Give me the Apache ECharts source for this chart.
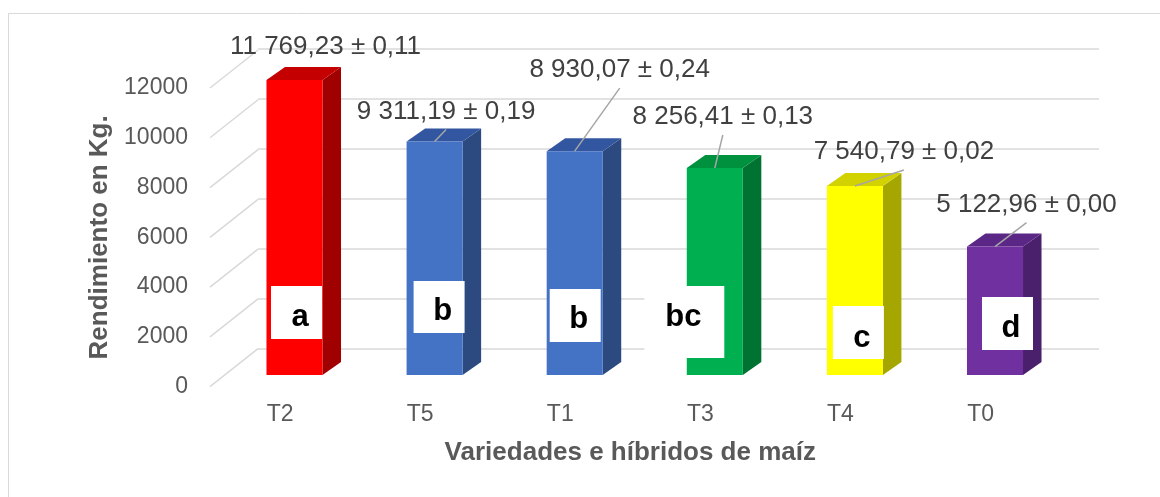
<!DOCTYPE html>
<html>
<head>
<meta charset="utf-8">
<title>Rendimiento en Kg.</title>
<script src="https://cdn.jsdelivr.net/npm/echarts@6/dist/echarts.min.js"></script>
<style>
  * { margin: 0; padding: 0; }
  html, body { background: #fff; }
  #main { width: 1160px; height: 497px; }
</style>
</head>
<body>
<div id="main"></div>
<script>
  // datos
  var categories = ['T2', 'T5', 'T1', 'T3', 'T4', 'T0'];
  var means = [11769.23, 9311.19, 8930.07, 8256.41, 7540.79, 5122.96];
  var errors = [0.11, 0.19, 0.24, 0.13, 0.02, 0.00];
  var groups = ['a', 'b', 'b', 'bc', 'c', 'd'];
  var yTicks = [0, 2000, 4000, 6000, 8000, 10000, 12000];

  // estilos: [frente, lado, tapa]
  var barColors = [
    ['#FF0000', '#A00000', '#C40000'],
    ['#4472C4', '#2D4A80', '#3356A0'],
    ['#4472C4', '#2D4A80', '#3356A0'],
    ['#00B050', '#007232', '#00913F'],
    ['#FFFF00', '#A6A600', '#D2D200'],
    ['#7030A0', '#4A1F6B', '#5B2786']
  ];
  // posicion de etiquetas movidas a mano: [dx, dy, linea guia]
  var labelShift = [[31, -33, 0], [11.5, -30, 1], [45, -81, 1], [8, -51, 1], [49, -34, 1], [31.5, -42, 1]];
  // cuadros de letras: [dx, dy desde base, ancho, alto, tx, ty]
  var letterBox = [
    [2, -62.5, 51, 53, 3.5, 4.5],
    [4.5, -68, 51, 52, 3.5, 4],
    [0.5, -59.5, 51, 53, 3.5, 3.5],
    [-30.5, -53, 80, 72, -1, -5],
    [3.5, -42.5, 51, 53, 3.5, 5.5],
    [12.5, -51.5, 51, 53, 3.5, 4.5]
  ];

  var FONT = "'Liberation Sans', Arial, sans-serif";
  var DX = 18.5, DY = -13;      // profundidad de la barra
  var WX = 48, WY = -38;        // profundidad de la pared

  function fmt(v) {
    var p = v.toFixed(2).split('.');
    return p[0].replace(/\B(?=(\d{3})+(?!\d))/g, ' ') + ',' + p[1];
  }

  var chart = echarts.init(document.getElementById('main'));

  function renderBar(params, api) {
    var i = params.dataIndex;
    var top = api.coord([api.value(0), api.value(1)]);
    var base = api.coord([api.value(0), 0]);
    var w = api.size([1, 0])[0] * 0.4;
    var x0 = top[0] - w / 2, x1 = top[0] + w / 2;
    var c = barColors[i];
    var ls = labelShift[i], lb = letterBox[i];
    var lx = top[0] + ls[0], ly = top[1] + ls[1];
    var bx = top[0] + lb[0] - lb[2] / 2, by = base[1] + lb[1] - lb[3] / 2;
    var kids = [
      { type: 'polygon', shape: { points: [[x1, top[1]], [x1 + DX, top[1] + DY], [x1 + DX, base[1] + DY], [x1, base[1]]] }, style: { fill: c[1] } },
      { type: 'polygon', shape: { points: [[x0, top[1]], [x0 + DX, top[1] + DY], [x1 + DX, top[1] + DY], [x1, top[1]]] }, style: { fill: c[2] } },
      { type: 'rect', shape: { x: x0, y: top[1], width: w, height: base[1] - top[1] }, style: { fill: c[0] } },
      { type: 'rect', shape: { x: bx, y: by, width: lb[2], height: lb[3] }, style: { fill: '#fff' } },
      { type: 'text', style: { text: groups[i], x: bx + lb[2] / 2 + lb[4], y: by + lb[3] / 2 + lb[5], align: 'center', verticalAlign: 'middle', fontSize: 31, fontWeight: 'bold', fontFamily: FONT, fill: '#000' } },
      { type: 'text', style: { text: fmt(means[i]) + ' ± ' + errors[i].toFixed(2).replace('.', ','), x: lx, y: ly, align: 'center', verticalAlign: 'middle', fontSize: 26, fontFamily: FONT, fill: '#404040' } }
    ];
    if (ls[2]) {
      kids.push({ type: 'line', shape: { x1: lx, y1: ly + 18, x2: top[0], y2: top[1] }, style: { stroke: '#a6a6a6', lineWidth: 1.5 } });
    }
    return { type: 'group', children: kids };
  }

  function renderStub(params, api) {
    var cs = params.coordSys;
    var y = api.coord([0, api.value(0)])[1];
    return { type: 'line', shape: { x1: cs.x, y1: y, x2: cs.x + WX, y2: y + WY }, style: { stroke: '#d9d9d9', lineWidth: 1.5 } };
  }

  chart.setOption({
    animation: false,
    textStyle: { fontFamily: FONT },
    graphic: [{
      type: 'rect', shape: { x: 8.5, y: 13.5, width: 1200, height: 520 },
      style: { fill: 'none', stroke: '#d9d9d9', lineWidth: 1 }, z: -10
    }],
    grid: [
      { left: 210, top: 88, width: 840.6, height: 298.7 },    // plano frontal
      { left: 224.45, top: 74.2, width: 840.6, height: 300.8 }, // frente de barras
      { left: 258, top: 49, width: 841, height: 300 }           // pared del fondo
    ],
    xAxis: [
      {
        gridIndex: 0, type: 'category', data: categories,
        axisLine: { show: false }, axisTick: { show: false },
        axisLabel: { fontSize: 23, color: '#595959', margin: 16 },
        name: 'Variedades e híbridos de maíz', nameLocation: 'middle', nameGap: 53,
        nameTextStyle: { fontSize: 26, fontWeight: 'bold', color: '#595959' }
      },
      { gridIndex: 1, type: 'category', data: categories, show: false },
      { gridIndex: 2, type: 'value', show: false }
    ],
    yAxis: [
      {
        gridIndex: 0, type: 'value', min: 0, max: 12000, interval: 2000,
        axisLine: { show: false }, axisTick: { show: false }, splitLine: { show: false },
        axisLabel: { fontSize: 23, color: '#595959', margin: 22, formatter: function (v) { return String(v); } },
        name: 'Rendimiento en Kg.', nameLocation: 'middle', nameRotate: 90, nameGap: 97,
        nameTextStyle: { fontSize: 26, fontWeight: 'bold', color: '#595959' }
      },
      { gridIndex: 1, type: 'value', min: 0, max: 12000, show: false },
      {
        gridIndex: 2, type: 'value', min: 0, max: 12000, interval: 2000,
        axisLine: { show: false }, axisTick: { show: false }, axisLabel: { show: false },
        splitLine: { show: true, lineStyle: { color: '#d9d9d9', width: 1.5 } }
      }
    ],
    series: [
      {
        type: 'custom', xAxisIndex: 0, yAxisIndex: 0, z: 1,
        renderItem: renderStub, data: yTicks.map(function (t) { return [t]; }),
        encode: { y: 0 }
      },
      {
        type: 'custom', xAxisIndex: 1, yAxisIndex: 1, z: 2,
        renderItem: renderBar,
        data: means.map(function (v, i) { return [i, v]; }),
        encode: { x: 0, y: 1 }
      }
    ]
  });
</script>
</body>
</html>
